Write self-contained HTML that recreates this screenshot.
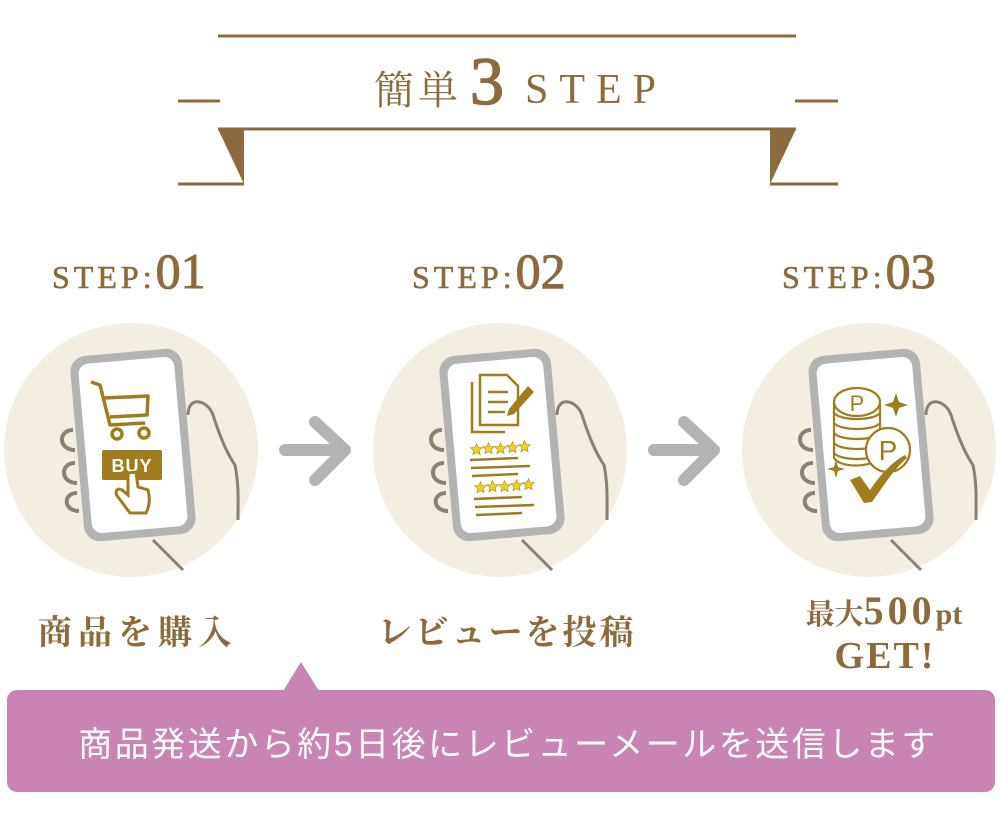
<!DOCTYPE html>
<html><head><meta charset="utf-8"><style>
body{margin:0;background:#fff;width:1000px;height:825px;overflow:hidden}
svg{display:block}
.serif{font-family:"Liberation Serif","Noto Serif CJK SC",serif}
</style></head><body>
<svg width="1000" height="825" viewBox="0 0 1000 825" xmlns="http://www.w3.org/2000/svg">
<defs>
<g id="phone">
 <path d="M-60,-15 C-75,-15 -75,5 -58,5 M-58,18 C-73,18 -73,38 -56,38 M-56,48 C-70,48 -70,66 -54,66" fill="none" stroke="#8a8073" stroke-width="4"/>
 <path d="M55,-30 C55,-50 75,-45 80,-30 C88,-5 95,10 102,20 C106,40 105,55 105,75" fill="none" stroke="#8a8073" stroke-width="3"/>
 <path d="M20,95 L50,125" stroke="#8a8073" stroke-width="3"/>
 <g transform="rotate(-5)">
  <rect x="-56" y="-93" width="112" height="186" rx="16" fill="#b3b3b3"/>
  <rect x="-48" y="-85" width="96" height="170" rx="10" fill="#fff"/>
 </g>
</g>
<symbol id="star" viewBox="-10 -10 20 20"><polygon points="0,-9 2.6,-3 9,-2.8 4,1.5 5.6,8 0,4.5 -5.6,8 -4,1.5 -9,-2.8 -2.6,-3" fill="#f2d21b" stroke="#b08a1a" stroke-width="1"/></symbol>
</defs>

<g fill="#8c6a3e" stroke="#8c6a3e">
 <line x1="218" y1="36" x2="796" y2="36" stroke-width="3"/>
 <line x1="178" y1="101" x2="220" y2="101" stroke-width="3"/>
 <line x1="795" y1="101" x2="838" y2="101" stroke-width="3"/>
 <line x1="218" y1="129" x2="796" y2="129" stroke-width="3"/>
 <line x1="178" y1="184" x2="244" y2="184" stroke-width="3"/>
 <line x1="770" y1="184" x2="838" y2="184" stroke-width="3"/>
 <polygon points="218,129 244,129 244,184" stroke="none"/>
 <polygon points="770,129 796,129 770,184" stroke="none"/>
</g>
<text x="374" y="104" class="serif" font-size="40" fill="#8c6a3e" letter-spacing="4">簡単</text>
<text x="470" y="104" class="serif" font-size="68" fill="#8c6a3e" stroke="#8c6a3e" stroke-width="1.5">3</text>
<text x="525" y="103" class="serif" font-size="42" fill="#8c6a3e" letter-spacing="11">STEP</text>

<g class="serif" fill="#8c6a3e" stroke="#8c6a3e" stroke-width="0.6">
 <text x="52" y="288" font-size="32" letter-spacing="4">STEP:<tspan font-size="50" letter-spacing="0" stroke-width="1">01</tspan></text>
 <text x="412" y="288" font-size="32" letter-spacing="4">STEP:<tspan font-size="50" letter-spacing="0" stroke-width="1">02</tspan></text>
 <text x="782" y="288" font-size="32" letter-spacing="4">STEP:<tspan font-size="50" letter-spacing="0" stroke-width="1">03</tspan></text>
</g>

<circle cx="131" cy="450" r="127" fill="#f3eee1"/>
<circle cx="500" cy="450" r="127" fill="#f3eee1"/>
<circle cx="869" cy="450" r="127" fill="#f3eee1"/>

<g fill="none" stroke="#b3b3b3" stroke-width="12" stroke-linecap="round" stroke-linejoin="round">
 <path d="M285,450 L345,450 M315,422 L345,450 L315,480"/>
 <path d="M654,450 L714,450 M684,422 L714,450 L684,480"/>
</g>

<use href="#phone" transform="translate(133,445)"/>
<g fill="none" stroke="#a07c1e" stroke-width="3.5" stroke-linejoin="round">
 <path d="M91,382 L100,385 L110,425 L145,423"/>
 <path d="M104,398 L148,396 L147,415 L110,417"/>
 <circle cx="117" cy="434" r="5"/><circle cx="144" cy="433" r="5"/>
</g>
<rect x="102" y="450" width="60" height="30" rx="2" fill="#a07c1e"/>
<text x="132" y="472" text-anchor="middle" font-family="Liberation Sans,sans-serif" font-weight="bold" font-size="18" fill="#fff" letter-spacing="1">BUY</text>
<path d="M128,473 L128,495 L122,490 C117,487 114,492 118,497 L130,513 L146,513 C150,505 150,498 148,490 L138,487 L136,472 Z" fill="#fff" stroke="#a07c1e" stroke-width="3"/>

<use href="#phone" transform="translate(502,445)"/>
<g fill="none" stroke="#a07c1e" stroke-width="2.5">
 <path d="M472,382 L472,432 L505,432"/>
 <path d="M480,375 L507,375 L518,386 L518,425 L480,425 Z"/>
 <line x1="488" y1="392" x2="508" y2="392"/><line x1="488" y1="402" x2="508" y2="402"/><line x1="488" y1="412" x2="505" y2="412"/>
</g>
<path d="M528,386 L534,392 L514,414 L507,416 L509,409 Z" fill="#a07c1e"/>
<g>
 <use href="#star" x="470" y="443" width="13" height="13"/><use href="#star" x="482" y="442" width="13" height="13"/><use href="#star" x="494" y="442" width="13" height="13"/><use href="#star" x="506" y="441" width="13" height="13"/><use href="#star" x="518" y="440" width="13" height="13"/>
 <use href="#star" x="474" y="481" width="13" height="13"/><use href="#star" x="486" y="480" width="13" height="13"/><use href="#star" x="498" y="480" width="13" height="13"/><use href="#star" x="510" y="479" width="13" height="13"/><use href="#star" x="522" y="478" width="13" height="13"/>
</g>
<g stroke="#a07c1e" stroke-width="2.5">
 <line x1="470" y1="460" x2="518" y2="458"/><line x1="471" y1="468" x2="530" y2="466"/><line x1="472" y1="476" x2="518" y2="474"/>
 <line x1="474" y1="499" x2="522" y2="497"/><line x1="475" y1="507" x2="534" y2="505"/><line x1="476" y1="515" x2="522" y2="513"/>
</g>

<use href="#phone" transform="translate(871,445)"/>
<g fill="none" stroke="#a07c1e" stroke-width="2.2">
 <ellipse cx="857" cy="402" rx="23" ry="14" fill="#fff"/>
 <path d="M834,402 L834,458 C840,468 870,468 880,458 L880,402"/>
 <path d="M834,413 C840,421 874,421 880,413 M834,423 C840,431 874,431 880,423 M834,433 C840,441 874,441 880,433 M834,443 C840,451 874,451 880,443 M834,453 C840,461 874,461 880,453"/>
 <circle cx="888" cy="450" r="22" fill="#fff"/>
</g>
<text x="857" y="411" text-anchor="middle" font-family="Liberation Sans,sans-serif" font-size="22" fill="#a07c1e">P</text>
<text x="888" y="460" text-anchor="middle" font-family="Liberation Sans,sans-serif" font-size="28" fill="#a07c1e">P</text>
<path d="M896,393 L899,402 L908,405 L899,408 L896,417 L893,408 L884,405 L893,402 Z" fill="#a07c1e"/>
<path d="M836,460 L838,467 L845,469 L838,471 L836,478 L834,471 L827,469 L834,467 Z" fill="#a07c1e"/>
<path d="M850,480 L860,476 L870,490 C880,475 892,462 905,455 L907,458 C893,470 882,488 872,502 L864,503 Z" fill="#a07c1e"/>

<g font-family="'Liberation Serif','Noto Serif CJK JP',serif" font-weight="bold" fill="#8c6a3e" text-anchor="middle">
 <text x="138" y="644" font-size="34" letter-spacing="6">商品を購入</text>
 <text x="507" y="644" font-size="34" letter-spacing="3">レビューを投稿</text>
 <text x="884" y="624" font-size="29">最大<tspan font-size="40" letter-spacing="4">500</tspan><tspan font-size="30">pt</tspan></text>
 <text x="885" y="668" font-size="38" letter-spacing="2">GET!</text>
</g>

<rect x="7" y="690" width="988" height="102" rx="10" fill="#c984b4"/>
<polygon points="283,691 301,662 319,691" fill="#c984b4"/>
<text x="508" y="756" text-anchor="middle" font-family="'Liberation Sans','Noto Sans CJK JP',sans-serif" font-size="34" fill="#fff" letter-spacing="2.5">商品発送から約5日後にレビューメールを送信します</text>
</svg>
</body></html>
